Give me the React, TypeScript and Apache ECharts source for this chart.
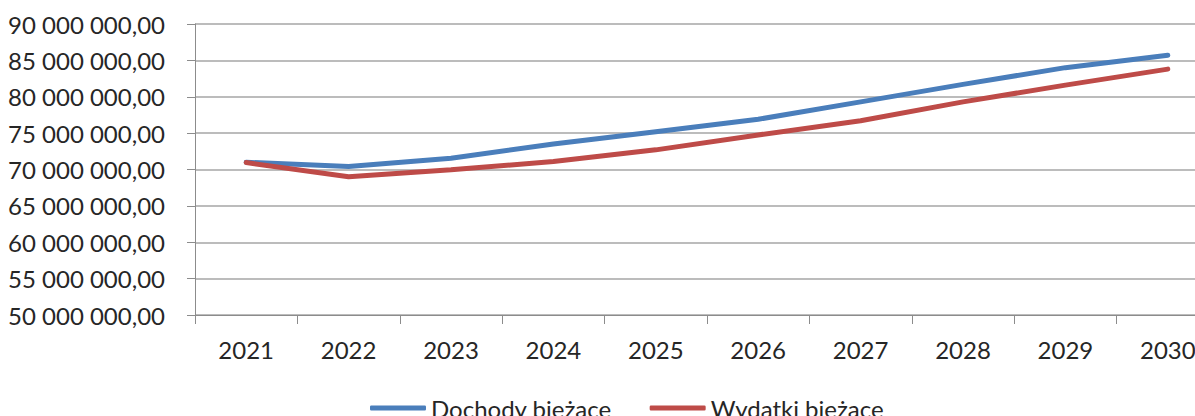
import React, { useEffect, useRef } from "react";
import * as echarts from "echarts";

const years = ["2021", "2022", "2023", "2024", "2025", "2026", "2027", "2028", "2029", "2030"];
const dochody = [71000000, 70400000, 71550000, 73500000, 75200000, 76900000, 79300000, 81700000, 84000000, 85700000];
const wydatki = [70950000, 69000000, 69950000, 71100000, 72700000, 74750000, 76700000, 79300000, 81600000, 83800000];
const seriesNames = ["Dochody bieżące", "Wydatki bieżące"];

const fmt = (v: number) => {
  const s = Math.round(v).toString().replace(/\B(?=(\d{3})+(?!\d))/g, " ");
  return s + ",00";
};

export default function App() {
  const ref = useRef<HTMLDivElement>(null);
  useEffect(() => {
    document.body.style.margin = "0";
    const chart = echarts.init(ref.current!, null, { renderer: "svg" });
    const font = "Lato, 'Open Sans', sans-serif";
    chart.setOption({
      animation: false,
      backgroundColor: "#ffffff",
      textStyle: { fontFamily: font },
      grid: { left: 195, top: 24, width: 1024, height: 291, containLabel: false, outerBoundsMode: "none" },
      legend: {
        left: 365,
        top: 391,
        icon: "roundRect",
        itemWidth: 56,
        itemHeight: 5,
        itemGap: 38,
        textStyle: { fontSize: 24, color: "#262626", fontFamily: font },
        data: seriesNames,
      },
      xAxis: {
        type: "category",
        data: years,
        boundaryGap: true,
        axisLine: { lineStyle: { color: "#8c8c8c", width: 1 } },
        axisTick: { show: true, length: 9, lineStyle: { color: "#8c8c8c" } },
        axisLabel: { fontSize: 24, color: "#262626", margin: 22, fontFamily: font },
      },
      yAxis: {
        type: "value",
        min: 50000000,
        max: 90000000,
        interval: 5000000,
        axisLine: { show: true, lineStyle: { color: "#8c8c8c", width: 1 } },
        axisTick: { show: true, length: 8, lineStyle: { color: "#8c8c8c" } },
        splitLine: { show: true, lineStyle: { color: "#a6a6a6", width: 1.5 } },
        axisLabel: { fontSize: 24, color: "#262626", margin: 30, formatter: fmt, fontFamily: font },
      },
      series: [
        {
          name: seriesNames[0],
          type: "line",
          data: dochody,
          symbol: "none",
          lineStyle: { color: "#4a7ebb", width: 5, cap: "round" },
          itemStyle: { color: "#4a7ebb" },
        },
        {
          name: seriesNames[1],
          type: "line",
          data: wydatki,
          symbol: "none",
          lineStyle: { color: "#be4b48", width: 5, cap: "round" },
          itemStyle: { color: "#be4b48" },
        },
      ],
    });
    return () => chart.dispose();
  }, []);
  return <div ref={ref} style={{ width: 1195, height: 416 }} />;
}
